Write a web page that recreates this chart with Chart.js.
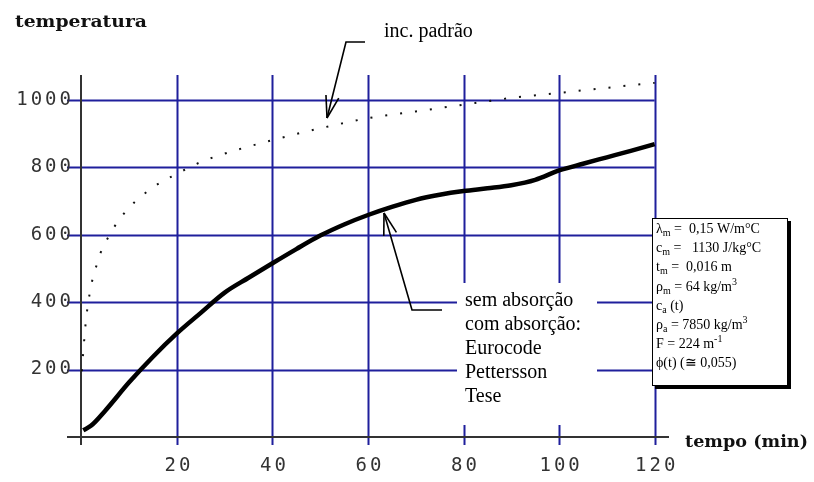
<!DOCTYPE html>
<html>
<head>
<meta charset="utf-8">
<script src="https://cdn.jsdelivr.net/npm/chart.js@4.4.0/dist/chart.umd.min.js"></script>
<style>
  body { margin: 0; background: #fff; }
  #wrap { width: 814px; height: 482px; }
</style>
</head>
<body>
<div id="wrap"><canvas id="grafico" width="814" height="482"></canvas></div>
<script>
// curva de incendio padrao (pontilhada)
const tempoPadrao = [0.1, 0.5, 1, 2, 3, 4, 5, 7, 10, 15, 20, 25, 30, 40, 50, 60, 70, 80, 90, 100, 110, 120];
const tempPadrao = [195, 270, 350, 445, 500, 545, 575, 625, 680, 740, 780, 815, 840, 880, 915, 945, 965, 985, 1005, 1020, 1035, 1050];

// temperatura do aco (curvas sobrepostas)
const tempoAco = [0.4, 2, 5, 10, 15, 20, 25, 30, 35, 40, 45, 50, 55, 60, 65, 70, 75, 80, 85, 90, 95, 100, 105, 110, 115, 120];
const tempAco = [20, 33, 78, 162, 238, 307, 368, 428, 472, 515, 557, 597, 630, 658, 682, 703, 718, 729, 737, 746, 762, 790, 810, 829, 848, 868];

const xTicks = [20, 40, 60, 80, 100, 120];
const yTicks = [200, 400, 600, 800, 1000];

const AZUL = '#1f1f9c';

function pontos(xs, ys) {
    return xs.map((x, i) => ({ x: x, y: ys[i] }));
}

// escreve texto com indices e expoentes
function textoRico(ctx, partes, x, y) {
    let cx = x;
    partes.forEach(p => {
        const tipo = p[1] || 'n';
        let dy = 0;
        if (tipo === 'sub') { ctx.font = '10px "Liberation Serif"'; dy = 3; }
        else if (tipo === 'sup') { ctx.font = '10px "Liberation Serif"'; dy = -6; }
        else { ctx.font = '14px "Liberation Serif"'; }
        ctx.fillText(p[0], cx, y + dy);
        cx += ctx.measureText(p[0]).width;
    });
}

function tituloPesado(ctx, txt, x, base, largura) {
    ctx.save();
    ctx.font = 'bold 17px "DejaVu Serif"';
    const w = ctx.measureText(txt).width;
    ctx.translate(x, base);
    ctx.scale(largura / w, 1);
    ctx.fillStyle = '#111';
    ctx.textAlign = 'left';
    ctx.textBaseline = 'alphabetic';
    ctx.fillText(txt, 0, 0);
    ctx.restore();
}

function seta(ctx, linha) {
    ctx.beginPath();
    ctx.moveTo(linha[0][0], linha[0][1]);
    for (let i = 1; i < linha.length; i++) ctx.lineTo(linha[i][0], linha[i][1]);
    ctx.stroke();
    const a = linha[linha.length - 2], b = linha[linha.length - 1];
    const ang = Math.atan2(a[1] - b[1], a[0] - b[0]);
    [0.29, -0.29].forEach(d => {
        ctx.beginPath();
        ctx.moveTo(b[0], b[1]);
        ctx.lineTo(b[0] + 23 * Math.cos(ang + d), b[1] + 23 * Math.sin(ang + d));
        ctx.stroke();
    });
}

const fundo = {
    id: 'fundo',
    beforeDatasetsDraw(chart) {
        const ctx = chart.ctx;
        const xs = chart.scales.x, ys = chart.scales.y;
        const ca = chart.chartArea;
        const x0 = xs.getPixelForValue(0), y0 = ys.getPixelForValue(0);
        ctx.save();
        ctx.strokeStyle = AZUL;
        ctx.lineWidth = 2;
        yTicks.forEach(v => {
            const py = Math.round(ys.getPixelForValue(v)) + 0.5;
            ctx.beginPath();
            ctx.moveTo(ca.left, py);
            ctx.lineTo(xs.getPixelForValue(120), py);
            ctx.stroke();
        });
        xTicks.forEach(v => {
            const px = Math.round(xs.getPixelForValue(v)) + 0.5;
            ctx.beginPath();
            ctx.moveTo(px, ca.top);
            ctx.lineTo(px, ca.bottom + 8);
            ctx.stroke();
        });
        // eixos
        ctx.strokeStyle = '#333';
        ctx.lineWidth = 2;
        ctx.beginPath();
        ctx.moveTo(ca.left, Math.round(y0));
        ctx.lineTo(ca.right, Math.round(y0));
        ctx.moveTo(Math.round(x0), ca.top);
        ctx.lineTo(Math.round(x0), ca.bottom + 8);
        ctx.stroke();
        // rotulos
        ctx.fillStyle = '#333';
        ctx.font = '19px "DejaVu Sans Mono"';
        ctx.letterSpacing = '3px';
        ctx.textBaseline = 'middle';
        ctx.textAlign = 'right';
        yTicks.forEach(v => ctx.fillText(String(v), ca.left + 7, ys.getPixelForValue(v)));
        ctx.textAlign = 'center';
        xTicks.forEach(v => ctx.fillText(String(v), xs.getPixelForValue(v) + 2, ca.bottom + 29));
        ctx.restore();
    },
    afterDatasetsDraw(chart) {
        const ctx = chart.ctx;
        ctx.save();
        ctx.letterSpacing = '0px';
        // caixa do texto das curvas
        ctx.fillStyle = '#fff';
        ctx.fillRect(457, 283, 140, 142);
        ctx.fillStyle = '#000';
        ctx.font = '20px "Liberation Serif"';
        ctx.textAlign = 'left';
        ctx.textBaseline = 'alphabetic';
        ['sem absorção', 'com absorção:', 'Eurocode', 'Pettersson', 'Tese'].forEach((t, i) => {
            ctx.fillText(t, 465, 306 + i * 24);
        });
        ctx.fillText('inc. padrão', 384, 37);

        // setas
        ctx.strokeStyle = '#000';
        ctx.lineWidth = 1.6;
        seta(ctx, [[365, 42], [346, 42], [327, 118]]);
        seta(ctx, [[442, 310], [412, 310], [384, 213]]);

        // caixa de parametros
        ctx.fillStyle = '#000';
        ctx.fillRect(655, 221, 136, 168);
        ctx.fillStyle = '#fff';
        ctx.fillRect(652, 218, 136, 168);
        ctx.strokeStyle = '#000';
        ctx.lineWidth = 1;
        ctx.strokeRect(652.5, 218.5, 135, 167);
        ctx.fillStyle = '#000';
        const linhas = [
            [['λ'], ['m', 'sub'], [' =  0,15 W/m°C']],
            [['c'], ['m', 'sub'], [' =   1130 J/kg°C']],
            [['t'], ['m', 'sub'], [' =  0,016 m']],
            [['ρ'], ['m', 'sub'], [' = 64 kg/m'], ['3', 'sup']],
            [['c'], ['a', 'sub'], [' (t)']],
            [['ρ'], ['a', 'sub'], [' = 7850 kg/m'], ['3', 'sup']],
            [['F = 224 m'], ['-1', 'sup']],
            [['ϕ(t) (≅ 0,055)']]
        ];
        linhas.forEach((l, i) => textoRico(ctx, l, 656, 233 + i * 19.2));

        ctx.restore();
        tituloPesado(ctx, 'temperatura', 15, 27, 132);
        tituloPesado(ctx, 'tempo (min)', 685, 447, 123);
    }
};

const ctx = document.getElementById('grafico').getContext('2d');
new Chart(ctx, {
    type: 'line',
    data: {
        datasets: [
            {
                label: 'inc. padrão',
                data: pontos(tempoPadrao, tempPadrao),
                borderColor: '#111',
                borderWidth: 2,
                borderDash: [2, 13],
                pointRadius: 0,
                cubicInterpolationMode: 'monotone',
                fill: false
            },
            {
                label: 'aço',
                data: pontos(tempoAco, tempAco),
                borderColor: '#000',
                borderWidth: 4.5,
                pointRadius: 0,
                cubicInterpolationMode: 'monotone',
                fill: false
            }
        ]
    },
    options: {
        responsive: false,
        animation: false,
        events: [],
        layout: { padding: { left: 67, right: 145, top: 75, bottom: 45 } },
        scales: {
            x: { type: 'linear', min: -3, max: 123, display: false },
            y: { type: 'linear', min: 0, max: 1073, display: false }
        },
        plugins: {
            legend: { display: false },
            tooltip: { enabled: false },
            title: { display: false }
        }
    },
    plugins: [fundo]
});
</script>
</body>
</html>
